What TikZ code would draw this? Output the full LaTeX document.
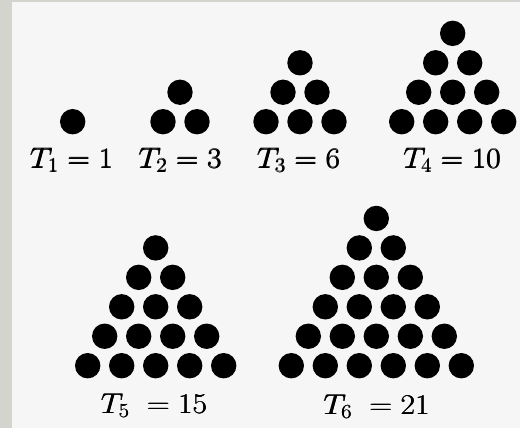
\RequirePackage{fix-cm}
\documentclass[tikz,border=0pt]{standalone}
\usepackage{graphicx}
\definecolor{bggray}{HTML}{D3D4CE}
\definecolor{panel}{HTML}{F6F6F6}
\newcommand{\wide}[1]{\scalebox{1.1}[1]{\rlap{#1}\kern0.5pt\rlap{\raisebox{0.3pt}{#1}}#1}}
\begin{document}
\begin{tikzpicture}[x=1pt,y=-1pt,
  dot/.style={circle,fill=black,inner sep=0pt,minimum size=25.4pt},
  lbl/.style={anchor=base,inner sep=0pt,font=\fontsize{28.5}{32}\selectfont}]
\fill[bggray] (0,0) rectangle (520,428);
\fill[panel] (12,2) rectangle (520,428);
\useasboundingbox (0,0) rectangle (520,428);
\foreach \n/\cx/\yb in {1/72.7/121.7, 2/180/121.7, 3/300/121.7, 4/452.7/121.7, 5/155.7/365.7, 6/376.3/365.7} {
  \pgfmathtruncatemacro\nm{\n-1}
  \foreach \r in {0,...,\nm} {
    \foreach \j in {0,...,\r} {
      \node[dot] (d\n-\r-\j) at ({\cx+(\j-\r/2)*34},{\yb-(\nm-\r)*29.45}) {};
    }
  }
}
\node[lbl] (t1) at (71.5,168) {\wide{$T_1=1$}};
\node[lbl] (t2) at (180,168) {\wide{$T_2=3$}};
\node[lbl] (t3) at (298.5,168) {\wide{$T_3=6$}};
\node[lbl] (t4) at (452,168) {\wide{$T_4=10$}};
\node[lbl] (t5) at (154,413.5) {\wide{$T_5\;=15$}};
\node[lbl] (t6) at (376.5,414.5) {\wide{$T_6\;=21$}};
\end{tikzpicture}
\end{document}
